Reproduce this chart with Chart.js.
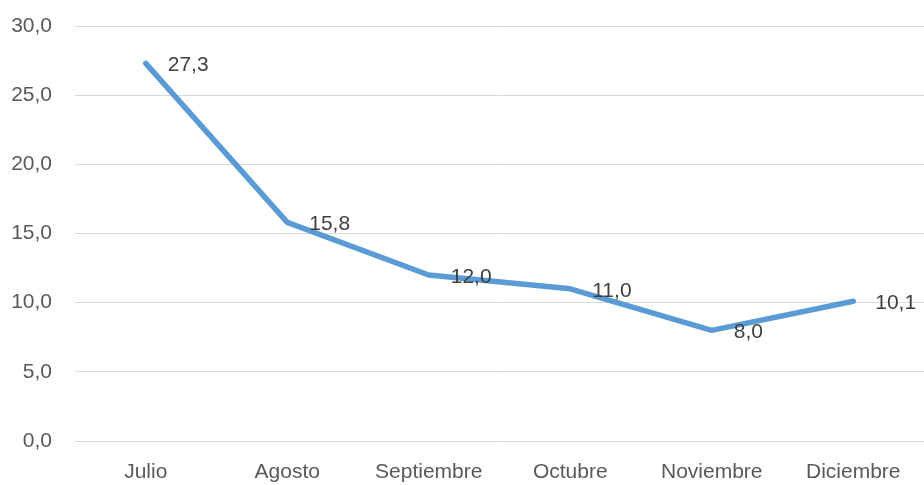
<!DOCTYPE html>
<html>
<head>
<meta charset="utf-8">
<script src="https://cdn.jsdelivr.net/npm/chart.js@4"></script>
<style>
  html, body { margin: 0; padding: 0; background: #fff; }
  #wrap { width: 924px; height: 485px; }
</style>
</head>
<body>
<div id="wrap"><canvas id="grafico"></canvas></div>
<script>
const meses = ['Julio', 'Agosto', 'Septiembre', 'Octubre', 'Noviembre', 'Diciembre'];
const valores = [27.3, 15.8, 12.0, 11.0, 8.0, 10.1];
const ejeY = [0, 5, 10, 15, 20, 25, 30];

const formato = v => v.toFixed(1).replace('.', ',');
const fuente = 'Liberation Sans, Arial, sans-serif';

const etiquetas = {
    id: 'etiquetas',
    afterDatasetsDraw(chart) {
        const ctx = chart.ctx;
        const meta = chart.getDatasetMeta(0);
        ctx.save();
        ctx.font = '21px ' + fuente;
        ctx.fillStyle = '#404040';
        ctx.textAlign = 'left';
        ctx.textBaseline = 'middle';
        meta.data.forEach((p, i) => {
            ctx.fillText(formato(valores[i]), p.x + 22, p.y + 2);
        });
        ctx.restore();
    }
};

new Chart(document.getElementById('grafico'), {
    type: 'line',
    data: {
        labels: meses,
        datasets: [{
            data: valores,
            borderColor: '#5B9BD5',
            borderWidth: 5.5,
            borderCapStyle: 'round',
            borderJoinStyle: 'round',
            pointRadius: 0,
            tension: 0,
            fill: false
        }]
    },
    options: {
        responsive: true,
        maintainAspectRatio: false,
        animation: false,
        layout: { padding: { top: 26, right: 0, left: 0, bottom: 0 } },
        plugins: {
            legend: { display: false },
            tooltip: { enabled: false }
        },
        scales: {
            x: {
                offset: true,
                grid: { display: false, drawTicks: false },
                border: { display: false },
                ticks: { color: '#595959', font: { family: fuente, size: 21 }, padding: 19, maxRotation: 0 },
                afterFit(s) { s.height = 44; s.paddingLeft = 0; s.paddingRight = 0; }
            },
            y: {
                min: 0,
                max: 30,
                afterBuildTicks(s) { s.ticks = ejeY.map(v => ({ value: v })); },
                grid: { color: '#d9d9d9', lineWidth: 1, drawTicks: false },
                border: { display: false },
                ticks: { color: '#595959', font: { family: fuente, size: 21 }, padding: 23, callback: v => formato(v) },
                afterFit(s) { s.width = 75; s.paddingTop = 0; s.paddingBottom = 0; }
            }
        }
    },
    plugins: [etiquetas]
});
</script>
</body>
</html>
